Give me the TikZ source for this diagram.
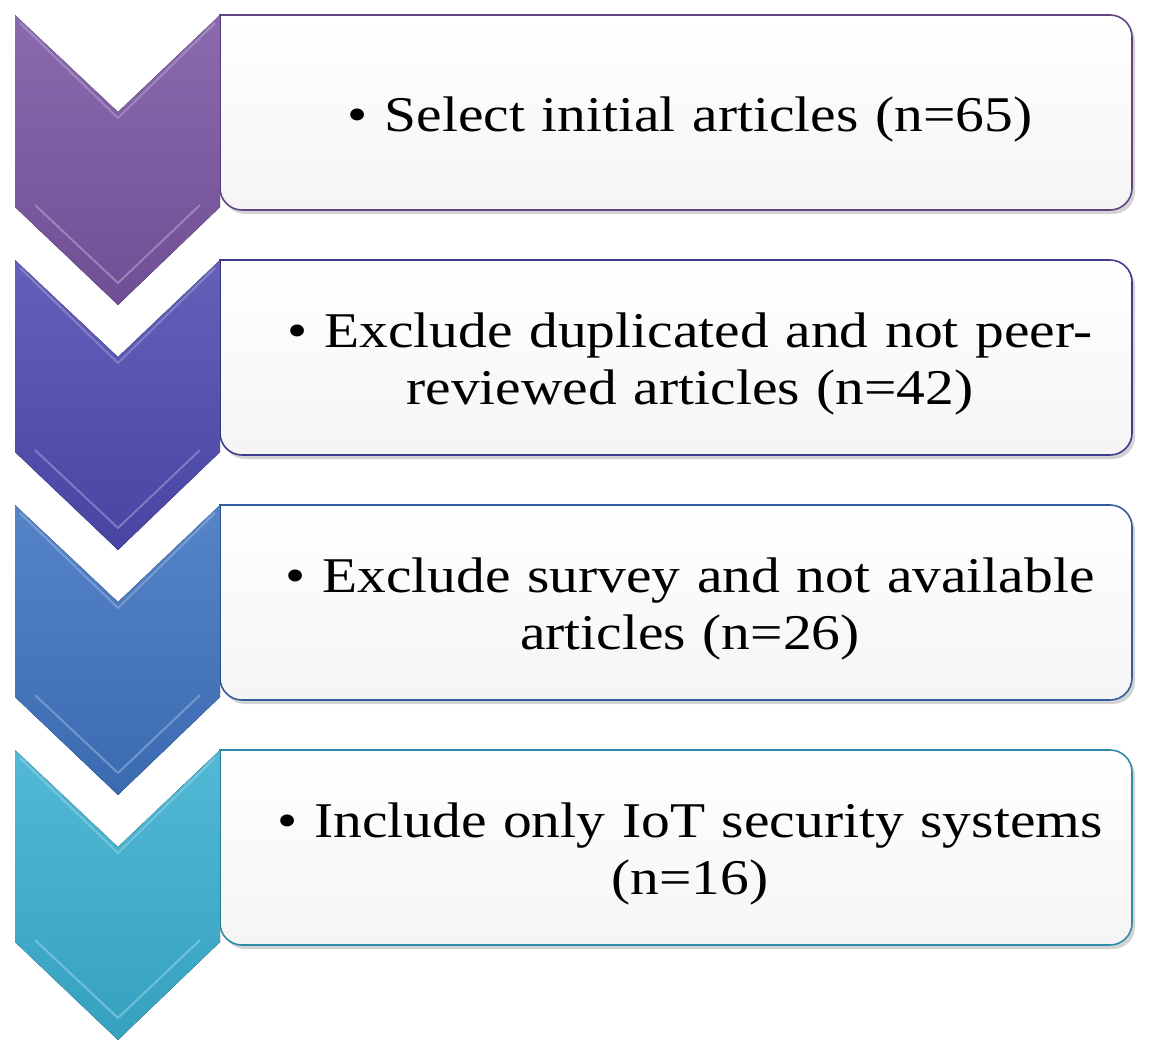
\documentclass[tikz,border=0pt]{standalone}
\usepackage{fontspec}
\setmainfont{Liberation Serif}
\newfontfamily\wide{Liberation Serif}[FakeStretch=1.15]
\usetikzlibrary{shadows}
\definecolor{c1}{HTML}{7A55A2}
\definecolor{c2}{HTML}{4F4AB0}
\definecolor{c3}{HTML}{3F73C0}
\definecolor{c4}{HTML}{3AAFD0}
\tikzset{
  box/.style={draw=#1!80!black, line width=1.6pt, top color=white, bottom color=gray!8,
    drop shadow={shadow xshift=3pt, shadow yshift=-4pt, opacity=0.35}},
  txt/.style={font=\wide\fontsize{50}{57}\selectfont, align=center, text width=900pt},
}
\newcommand{\chev}[2]{%
  \fill[top color=#2!88!white, bottom color=#2!92!black]
    (15,#1) -- (118,#1+97) -- (220,#1) -- (220,#1+192) -- (118,#1+290) -- (15,#1+192) -- cycle;
  \draw[#2!55!white, line width=2pt, opacity=0.6] (35,#1+190) -- (118,#1+268) -- (200,#1+190);
  \draw[#2!50!white, line width=2pt, opacity=0.5] (20,#1+8) -- (118,#1+103) -- (215,#1+8);
}
\begin{document}
\begin{tikzpicture}[x=1pt,y=-1pt]
\useasboundingbox (0,0) rectangle (1149,1057);
\foreach \y/\c/\t [count=\i] in {
  15/c1/{\textbullet\ Select initial articles (n=65)},
  260/c2/{\textbullet\ Exclude duplicated and not peer-\\reviewed articles (n=42)},
  505/c3/{\textbullet\ Exclude survey and not available\\articles (n=26)},
  750/c4/{\textbullet\ Include only IoT security systems\\(n=16)}}{
  \path[box=\c, rounded corners=22pt] (220,\y) -- (1132,\y) -- (1132,\y+195) -- (220,\y+195)
    [sharp corners] -- cycle;
  \node[txt] (t\i) at (690,\y+104) {\t};
}
\chev{15}{c1}
\chev{260}{c2}
\chev{505}{c3}
\chev{750}{c4}
\end{tikzpicture}
\end{document}
